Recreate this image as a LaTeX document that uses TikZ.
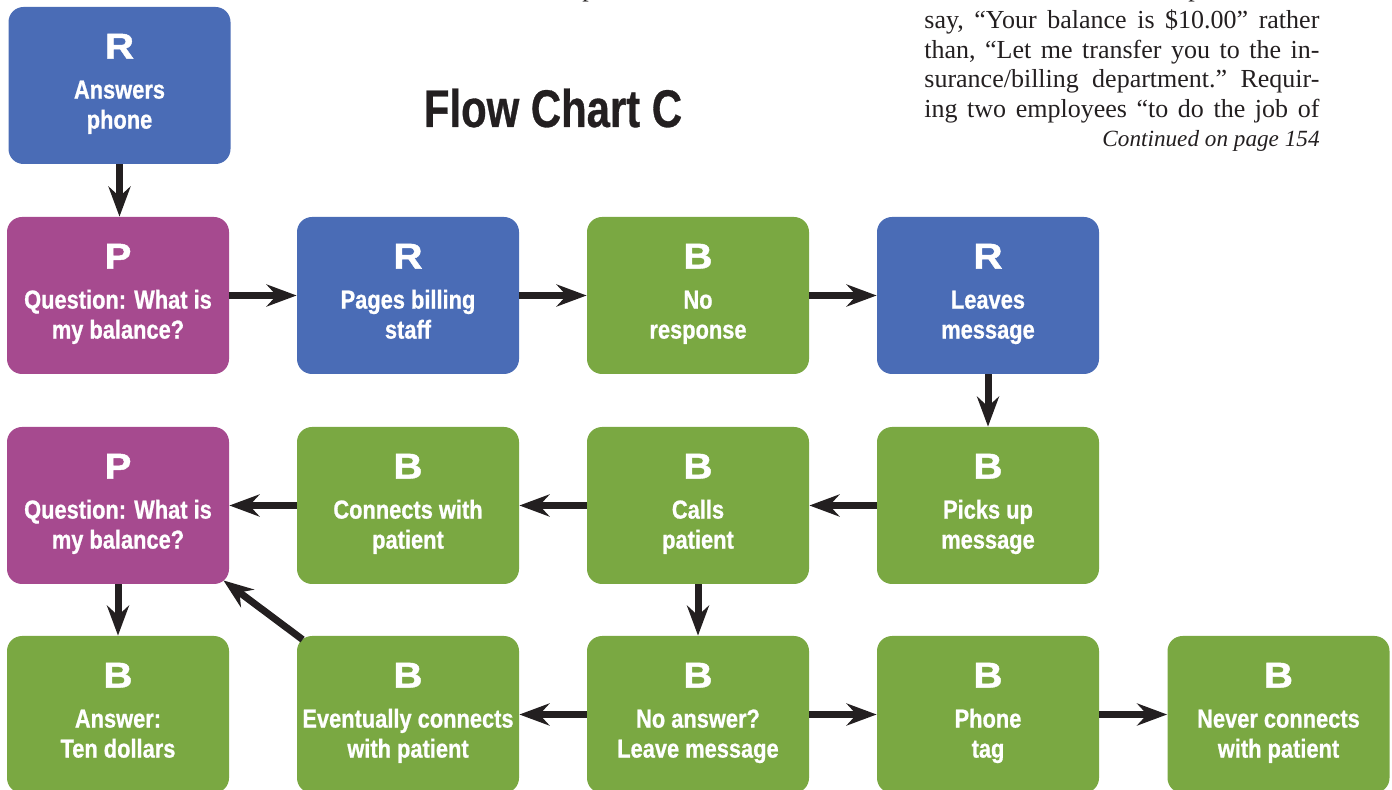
\documentclass[tikz,border=0pt]{standalone}
\usepackage{fontspec}
\setmainfont{Liberation Serif}
\newfontfamily\condfont[FakeStretch=0.84,FakeBold=0.8]{Liberation Sans}
\newfontfamily\titlefont[FakeStretch=0.79,FakeBold=0.6]{Liberation Sans}
\newfontfamily\letterfont[FakeStretch=1.12,FakeBold=1.2]{Liberation Sans}
\usetikzlibrary{arrows.meta,calc}
\definecolor{cblue}{RGB}{74,108,182}
\definecolor{cpurple}{RGB}{166,74,143}
\definecolor{cgreen}{RGB}{122,168,66}
\definecolor{cdark}{RGB}{35,31,32}
\tikzset{
  box/.style={rectangle, rounded corners=7.5pt, minimum width=111pt, minimum height=78.5pt, inner sep=0pt, draw=none},
  letter/.style={inner sep=0pt, text=white, font=\letterfont\bfseries\fontsize{18}{18}\selectfont},
  btext/.style={inner sep=0pt, text=white, font=\condfont\bfseries\fontsize{13}{15}\selectfont},
  arr/.style={line width=3.5pt, draw=cdark, -{Stealth[length=15pt,width=11pt,inset=5pt]}},
  body/.style={inner sep=0pt, text=cdark, font=\fontsize{13}{15}\selectfont\frenchspacing}
}
\newcommand\fcbox[7]{%
  \node[box, fill=#4] (#1) at (#2,#3) {};
  \node[letter, anchor=base] (#1-l) at ($(#1.north)+(0,52)$) {#5};
  \node[btext, anchor=base] (#1-a) at ($(#1.north)+(0,92)$) {#6};
  \node[btext, anchor=base] (#1-b) at ($(#1.north)+(0,122)$) {#7};
}
\begin{document}
\begin{tikzpicture}[x=0.5pt,y=-0.5pt]
\useasboundingbox (0,0) rectangle (1392,790);
\clip (0,0) rectangle (1392,790);
% text column (fragments of the line above, cut by the top edge)
\node[body, anchor=base west] (t0) at (1188,-3) {p};
\node[body, anchor=base west] (t00) at (582,-3) {p};
\node[body, anchor=base west] (t1) at (924,29) {\makebox[197.5pt][s]{say, “Your balance is \$10.00” rather}};
\node[body, anchor=base west] (t2) at (924,58.5) {\makebox[197.5pt][s]{than, “Let me transfer you to the in-}};
\node[body, anchor=base west] (t3) at (924,88) {\makebox[197.5pt][s]{surance/billing department.” Requir-}};
\node[body, anchor=base west] (t4) at (924,117.5) {\makebox[197.5pt][s]{ing two employees “to do the job of}};
\node[body, anchor=base east, font=\fontsize{11.6}{15}\selectfont\itshape] (t5) at (1320,147) {Continued on page 154};
% title
\node[inner sep=0pt, anchor=base, text=cdark, font=\titlefont\bfseries\fontsize{26.5}{30}\selectfont] (title) at (553,127) {Flow Chart C};
% boxes
\fcbox{top}{119.5}{85.5}{cblue}{R}{Answers}{phone}
\fcbox{q1}{118}{295.5}{cpurple}{P}{Question: What is}{my balance?}
\fcbox{pg}{408}{295.5}{cblue}{R}{Pages billing}{staff}
\fcbox{nr}{698}{295.5}{cgreen}{B}{No}{response}
\fcbox{lm}{988}{295.5}{cblue}{R}{Leaves}{message}
\fcbox{q2}{118}{505.5}{cpurple}{P}{Question: What is}{my balance?}
\fcbox{cw}{408}{505.5}{cgreen}{B}{Connects with}{patient}
\fcbox{cp}{698}{505.5}{cgreen}{B}{Calls}{patient}
\fcbox{pu}{988}{505.5}{cgreen}{B}{Picks up}{message}
\fcbox{an}{118}{714.5}{cgreen}{B}{Answer:}{Ten dollars}
\fcbox{ev}{408}{714.5}{cgreen}{B}{Eventually connects}{with patient}
\fcbox{na}{698}{714.5}{cgreen}{B}{No answer?}{Leave message}
\fcbox{pt}{988}{714.5}{cgreen}{B}{Phone}{tag}
\fcbox{nc}{1278.5}{714.5}{cgreen}{B}{Never connects}{with patient}
% connectors
\draw[arr] (top.south) -- (top.south |- q1.north);
\draw[arr] (q1.east) -- (pg.west);
\draw[arr] (pg.east) -- (nr.west);
\draw[arr] (nr.east) -- (lm.west);
\draw[arr] (lm.south) -- (pu.north);
\draw[arr] (pu.west) -- (cp.east);
\draw[arr] (cp.west) -- (cw.east);
\draw[arr] (cw.west) -- (q2.east);
\draw[arr] (q2.south) -- (an.north);
\draw[arr] (cp.south) -- (na.north);
\draw[arr] (na.west) -- (ev.east);
\draw[arr] (na.east) -- (pt.west);
\draw[arr] (pt.east) -- (nc.west);
\draw[arr] ($(ev.north west)+(6,4)$) -- ($(q2.south east)+(-6,-4)$);
\end{tikzpicture}
\end{document}
